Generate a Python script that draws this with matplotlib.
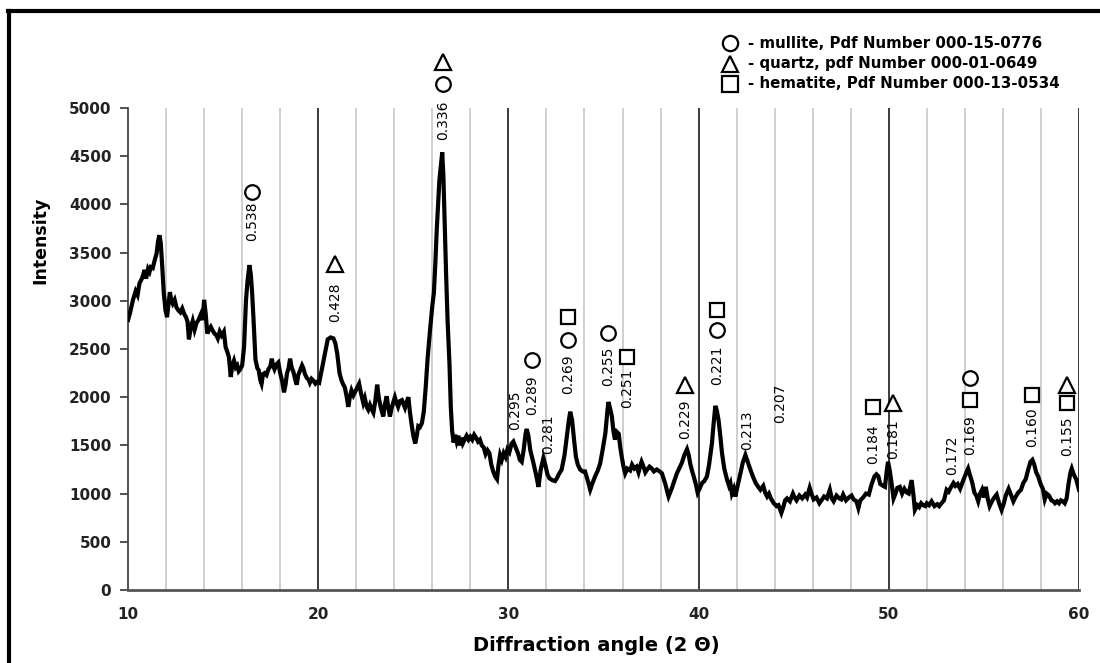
import matplotlib
matplotlib.use("Agg")
import matplotlib.pyplot as plt
from matplotlib.lines import Line2D

# XRD scan: 2-theta (deg) and intensity
two_theta = [
    10.0, 10.1, 10.26, 10.4, 10.5, 10.6, 10.75, 10.87, 10.95, 11.05, 11.13, 11.2, 11.3, 11.4, 11.5,
    11.58, 11.65, 11.72, 11.8, 11.88, 11.97, 12.05, 12.12, 12.2, 12.28, 12.35, 12.45, 12.55, 12.65,
    12.75, 12.85, 12.96, 13.05, 13.13, 13.2, 13.3, 13.4, 13.5, 13.6, 13.7, 13.83, 13.92, 14.0, 14.08,
    14.17, 14.25, 14.35, 14.45, 14.55, 14.65, 14.72, 14.82, 14.92, 15.04, 15.13, 15.22, 15.3, 15.4,
    15.48, 15.57, 15.66, 15.74, 15.82, 15.9, 16.0, 16.1, 16.2, 16.28, 16.38, 16.45, 16.52, 16.6, 16.7,
    16.8, 16.87, 16.95, 17.02, 17.1, 17.18, 17.28, 17.38, 17.48, 17.56, 17.62, 17.7, 17.8, 17.9, 18.0,
    18.1, 18.2, 18.28, 18.36, 18.44, 18.52, 18.6, 18.7, 18.78, 18.87, 18.95, 19.05, 19.15, 19.22, 19.3,
    19.4, 19.5, 19.56, 19.65, 19.75, 19.85, 19.95, 20.05, 20.15, 20.25, 20.35, 20.5, 20.65, 20.8, 20.9,
    21.0, 21.12, 21.23, 21.32, 21.4, 21.5, 21.58, 21.66, 21.75, 21.85, 21.95, 22.05, 22.15, 22.25,
    22.37, 22.45, 22.55, 22.63, 22.72, 22.8, 22.9, 23.0, 23.1, 23.18, 23.28, 23.42, 23.5, 23.6, 23.68,
    23.77, 23.85, 23.95, 24.03, 24.12, 24.2, 24.3, 24.4, 24.48, 24.56, 24.65, 24.74, 24.82, 24.9, 25.0,
    25.1, 25.18, 25.26, 25.35, 25.45, 25.55, 25.65, 25.75, 25.88, 26.0, 26.08, 26.16, 26.23, 26.3,
    26.37, 26.45, 26.52, 26.58, 26.65, 26.72, 26.8, 26.9, 26.97, 27.04, 27.12, 27.2, 27.28, 27.37,
    27.45, 27.52, 27.6, 27.72, 27.8, 27.9, 28.0, 28.1, 28.2, 28.3, 28.4, 28.5, 28.6, 28.7, 28.8, 28.9,
    29.0, 29.1, 29.2, 29.3, 29.4, 29.48, 29.56, 29.65, 29.75, 29.85, 29.95, 30.05, 30.17, 30.26, 30.38,
    30.5, 30.6, 30.7, 30.8, 30.9, 30.96, 31.05, 31.15, 31.3, 31.45, 31.58, 31.7, 31.84, 31.95, 32.05,
    32.15, 32.3, 32.45, 32.55, 32.65, 32.8, 32.95, 33.07, 33.17, 33.25, 33.35, 33.45, 33.55, 33.65,
    33.77, 33.9, 34.03, 34.15, 34.3, 34.42, 34.56, 34.7, 34.82, 34.95, 35.1, 35.2, 35.26, 35.35, 35.44,
    35.52, 35.6, 35.7, 35.8, 35.88, 35.96, 36.05, 36.14, 36.25, 36.4, 36.5, 36.62, 36.74, 36.84, 36.92,
    37.0, 37.1, 37.2, 37.3, 37.42, 37.54, 37.65, 37.8, 37.95, 38.07, 38.17, 38.25, 38.35, 38.42, 38.5,
    38.6, 38.7, 38.86, 39.0, 39.12, 39.25, 39.39, 39.48, 39.56, 39.65, 39.74, 39.85, 39.95, 40.05,
    40.18, 40.3, 40.44, 40.55, 40.7, 40.8, 40.88, 40.96, 41.05, 41.15, 41.23, 41.35, 41.5, 41.6, 41.67,
    41.75, 41.85, 41.93, 42.05, 42.2, 42.32, 42.46, 42.58, 42.72, 42.85, 43.0, 43.1, 43.25, 43.4, 43.5,
    43.6, 43.7, 43.8, 43.95, 44.1, 44.2, 44.35, 44.45, 44.55, 44.65, 44.8, 44.96, 45.05, 45.15, 45.3,
    45.45, 45.6, 45.7, 45.84, 45.95, 46.05, 46.2, 46.35, 46.46, 46.6, 46.75, 46.9, 47.0, 47.1, 47.25,
    47.4, 47.5, 47.6, 47.75, 47.9, 48.04, 48.15, 48.3, 48.4, 48.5, 48.65, 48.8, 48.95, 49.1, 49.25,
    49.35, 49.45, 49.55, 49.7, 49.8, 49.9, 49.96, 50.05, 50.15, 50.25, 50.35, 50.45, 50.58, 50.7, 50.82,
    50.95, 51.05, 51.2, 51.3, 51.37, 51.5, 51.6, 51.7, 51.8, 51.92, 52.0, 52.12, 52.25, 52.4, 52.55,
    52.65, 52.77, 52.9, 53.04, 53.15, 53.25, 53.4, 53.5, 53.62, 53.75, 53.88, 54.0, 54.1, 54.17, 54.27,
    54.38, 54.5, 54.6, 54.7, 54.8, 54.9, 55.0, 55.1, 55.2, 55.3, 55.42, 55.55, 55.67, 55.8, 55.93,
    56.05, 56.15, 56.3, 56.42, 56.55, 56.65, 56.8, 56.95, 57.07, 57.2, 57.33, 57.45, 57.55, 57.65,
    57.75, 57.85, 58.0, 58.1, 58.2, 58.3, 58.42, 58.55, 58.65, 58.74, 58.85, 58.95, 59.05, 59.15,
    59.25, 59.35, 59.45, 59.55, 59.62, 59.72, 59.85, 60.0,
]
intensity = [
    2800, 2870, 3010, 3100, 3060, 3180, 3240, 3320, 3230, 3330, 3300, 3350, 3340, 3420, 3490,
    3620, 3680, 3600, 3350, 3080, 2900, 2830, 2950, 3090, 3000, 2970, 3010, 2930, 2900,
    2880, 2920, 2860, 2830, 2780, 2600, 2720, 2790, 2700, 2770, 2800, 2860, 2800, 3010, 2870,
    2660, 2700, 2730, 2690, 2660, 2640, 2610, 2680, 2640, 2680, 2520, 2470, 2420, 2210,
    2330, 2380, 2310, 2330, 2270, 2290, 2330, 2520, 3000, 3200, 3370, 3280, 3100, 2800, 2390,
    2300, 2280, 2180, 2140, 2240, 2250, 2230, 2290, 2320, 2400, 2330, 2290, 2340, 2360, 2250,
    2170, 2050, 2130, 2250, 2300, 2400, 2310, 2260, 2190, 2130, 2230, 2280, 2330, 2300, 2240,
    2200, 2180, 2150, 2190, 2170, 2140, 2160, 2150, 2250, 2350, 2450, 2600, 2620, 2610, 2560,
    2450, 2250, 2170, 2130, 2100, 2000, 1900, 2000, 2070, 2020, 2060, 2100, 2140, 2040,
    1940, 1990, 1900, 1870, 1920, 1880, 1840, 1960, 2130, 2000, 1900, 1800, 1920, 2010, 1900,
    1800, 1880, 1950, 2000, 1940, 1900, 1960, 1970, 1930, 1890, 1950, 2000, 1850, 1730, 1600,
    1520, 1600, 1700, 1690, 1730, 1850, 2100, 2400, 2700, 2950, 3080, 3400, 3730, 4000,
    4250, 4400, 4540, 4300, 3800, 3300, 2800, 2350, 1900, 1650, 1530, 1610, 1540, 1600,
    1500, 1580, 1520, 1570, 1600, 1560, 1590, 1560, 1610, 1580, 1540, 1560, 1500, 1480, 1410, 1450,
    1420, 1300, 1230, 1180, 1150, 1300, 1400, 1350, 1420, 1380, 1460, 1430, 1520, 1540, 1480,
    1420, 1350, 1330, 1450, 1620, 1670, 1600, 1450, 1330, 1200, 1070, 1250, 1370, 1290, 1200,
    1160, 1140, 1130, 1160, 1200, 1250, 1400, 1590, 1750, 1850, 1760, 1560, 1380, 1300,
    1250, 1230, 1230, 1150, 1040, 1110, 1180, 1240, 1310, 1450, 1630, 1850, 1950, 1880, 1800,
    1650, 1560, 1640, 1620, 1480, 1380, 1280, 1210, 1260, 1240, 1300, 1260, 1280, 1220, 1280,
    1330, 1280, 1220, 1250, 1280, 1260, 1230, 1250, 1230, 1210, 1150, 1100, 1020, 970, 1010,
    1060, 1120, 1210, 1270, 1320, 1400, 1460, 1400, 1310, 1240, 1180, 1100, 1010, 1050,
    1110, 1130, 1180, 1300, 1520, 1750, 1910, 1860, 1760, 1580, 1420, 1260, 1140, 1080, 1110,
    1000, 1050, 970, 1080, 1210, 1320, 1400, 1330, 1250, 1180, 1110, 1080, 1040, 1080, 1010,
    970, 1000, 950, 900, 870, 880, 800, 860, 930, 950, 920, 1000, 960, 930, 980,
    950, 990, 960, 1060, 990, 940, 960, 900, 930, 970, 950, 1040, 950, 920, 980,
    950, 940, 990, 930, 960, 980, 940, 920, 850, 930, 960, 1000, 990, 1100, 1180,
    1200, 1180, 1100, 1080, 1070, 1250, 1330, 1240, 1100, 950, 1000, 1060, 1070, 1000, 1050,
    1010, 1000, 1140, 980, 830, 880, 860, 900, 880, 870, 900, 880, 920, 870, 890,
    870, 900, 930, 1040, 1020, 1060, 1110, 1080, 1100, 1050, 1120, 1180, 1230, 1260, 1190,
    1120, 1010, 980, 920, 1000, 1040, 960, 1070, 950, 870, 920, 960, 990, 900, 830,
    900, 980, 1050, 990, 920, 960, 1010, 1040, 1110, 1150, 1250, 1330, 1350, 1300,
    1220, 1180, 1090, 1050, 940, 1000, 980, 930, 920, 900, 920, 900, 930, 920,
    900, 950, 1100, 1220, 1260, 1200, 1150, 1040,
]

# d-spacing labels: text, angle, height of text centre (intensity units)
d_labels = ["0.538", "0.428", "0.336", "0.295", "0.289", "0.281", "0.269", "0.255", "0.251",
            "0.229", "0.221", "0.213", "0.207", "0.184", "0.181", "0.172", "0.169", "0.160", "0.155"]
d_angles = [16.52, 20.88, 26.56, 30.35, 31.24, 32.08, 33.13, 35.24, 36.24,
            39.29, 40.97, 42.54, 44.28, 49.17, 50.22, 53.32, 54.27, 57.53, 59.37]
d_heights = [3830, 2990, 4870, 1867, 2023, 1618, 2235, 2320, 2090,
             1774, 2330, 1660, 1940, 1515, 1566, 1400, 1605, 1691, 1598]

# phase symbols: (marker, angle, height)
phase_marks = [
    ("o", 16.52, 4130), ("^", 20.88, 3380), ("o", 26.56, 5249), ("^", 26.56, 5477),
    ("o", 31.24, 2386), ("o", 33.13, 2593), ("s", 33.13, 2832), ("o", 35.24, 2666),
    ("s", 36.24, 2417), ("^", 39.29, 2127), ("o", 40.97, 2697), ("s", 40.97, 2905),
    ("s", 49.17, 1898), ("^", 50.22, 1940), ("s", 54.27, 1971), ("o", 54.27, 2199),
    ("s", 57.53, 2023), ("s", 59.37, 1940), ("^", 59.37, 2127),
]

legend_marks = ["o", "^", "s"]
legend_texts = ["- mullite, Pdf Number 000-15-0776",
                "- quartz, pdf Number 000-01-0649",
                "- hematite, Pdf Number 000-13-0534"]

fig = plt.figure(figsize=(11, 6.63), dpi=100)
ax = fig.add_axes([0.1164, 0.1101, 0.8645, 0.727])

# vertical grid: light every 2 deg, dark every 10 deg
for g in range(12, 61, 2):
    if g % 10 == 0:
        ax.axvline(g, color="#3a3a3a", lw=1.4, zorder=1)
    else:
        ax.axvline(g, color="#cccccc", lw=1.3, zorder=1)

ax.plot(two_theta, intensity, color="black", lw=3, solid_joinstyle="miter", zorder=3)

for txt, a, h in zip(d_labels, d_angles, d_heights):
    ax.text(a, h, txt, rotation=90, ha="center", va="center", fontsize=10,
            color="black", zorder=4, clip_on=False)

for m, a, h in phase_marks:
    size = 11.5 if m == "^" else 10.5
    ax.plot(a, h, marker=m, ms=size, mfc="white", mec="black", mew=1.6,
            linestyle="none", zorder=4, clip_on=False)

ax.set_xlim(10, 60)
ax.set_ylim(0, 5000)
ax.set_xticks([10, 20, 30, 40, 50, 60])
ax.set_yticks(range(0, 5001, 500))
ax.tick_params(axis="x", length=0, pad=12, labelsize=11)
ax.tick_params(axis="y", direction="out", length=6, width=1.3, color="#444444",
               pad=6, labelsize=11)
for lab in ax.get_xticklabels() + ax.get_yticklabels():
    lab.set_fontweight("bold")
    lab.set_color("#222222")
ax.spines["top"].set_visible(False)
ax.spines["right"].set_visible(False)
ax.spines["left"].set_color("#444444")
ax.spines["left"].set_linewidth(1.3)
ax.spines["bottom"].set_color("#555555")
ax.spines["bottom"].set_linewidth(2)

fig.text(0.542, 0.027, "Diffraction angle (2 \u0398)", ha="center", va="center",
         fontsize=14, fontweight="bold")
fig.text(0.037, 0.638, "Intensity", rotation=90, ha="center", va="center",
         fontsize=12.5, fontweight="semibold")

# legend drawn as symbols + text in figure coordinates
for i, (m, t) in enumerate(zip(legend_marks, legend_texts)):
    yy = 1 - (43 + i * 20.5) / 663
    fig.add_artist(Line2D([730 / 1100], [yy], marker=m, ms=11, mfc="white", mec="black",
                          mew=1.6, linestyle="none", transform=fig.transFigure))
    fig.text(748 / 1100, yy, t, ha="left", va="center", fontsize=10.8, fontweight="bold")

# outer frame (top and left edges only)
fig.add_artist(Line2D([8 / 1100, 1], [1 - 11 / 663, 1 - 11 / 663], color="black", lw=3,
                      transform=fig.transFigure))
fig.add_artist(Line2D([9 / 1100, 9 / 1100], [0, 1 - 11 / 663], color="black", lw=3,
                      transform=fig.transFigure))

fig.savefig("out.png", dpi=100)
